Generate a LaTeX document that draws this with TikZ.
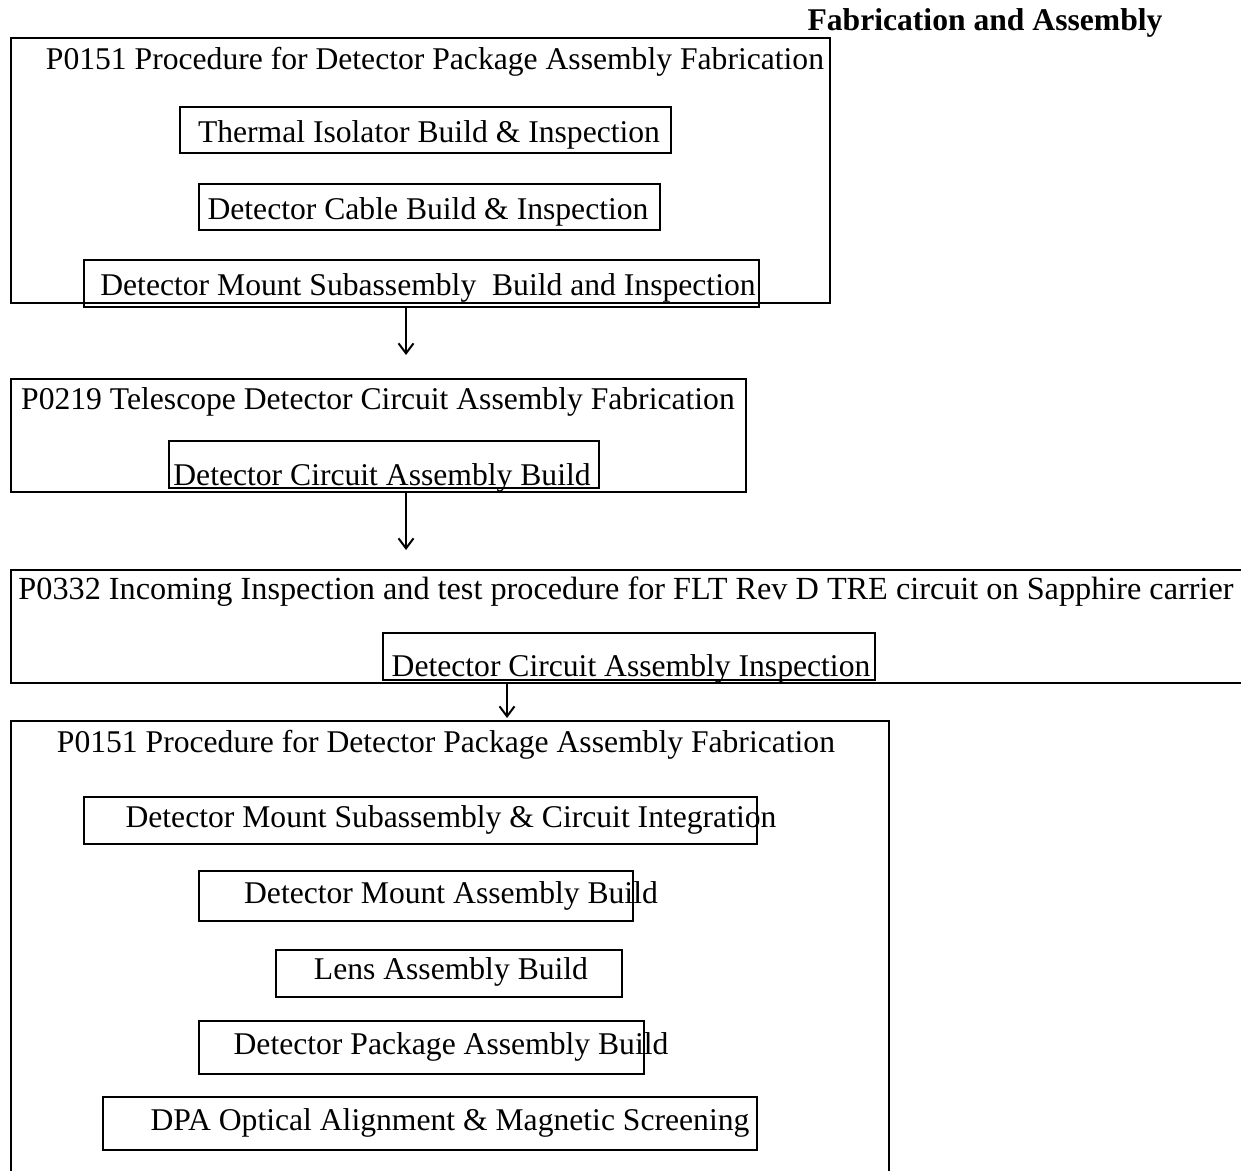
\documentclass[tikz,border=0pt]{standalone}
\usepackage{fontspec}
\setmainfont{Liberation Serif}
\usepackage{tikz}
\usetikzlibrary{fit,arrows.meta}

\tikzset{
  frame/.style={draw, rectangle, inner sep=0pt, line width=0.5pt},
  subbox/.style={draw, rectangle, inner sep=0pt, line width=0.7pt},
  label/.style={anchor=base, inner sep=0pt, font=\fontsize{12.65}{15}\selectfont},
  flow/.style={-{Straight Barb[length=4pt,width=6pt]}, line width=0.8pt}
}

\begin{document}
\begin{tikzpicture}[x=0.4pt,y=-0.4pt]
		\clip (0,0) rectangle (1241,1171);
		
		% Heading
		\node[label, font=\fontsize{12.65}{15}\selectfont\bfseries] (heading) at (985,31) {Fabrication and Assembly};
		
		% P0151 (first part)
		\node[frame, fit={(11,38) (830,303)}] (frameone) {};
		\node[label] (titleone) at (435,70) {P0151 Procedure for Detector Package Assembly Fabrication};
		\node[subbox, fit={(180,107) (671,153)}] (isolator) {};
		\node[label] (isolatortxt) at (429,143) {Thermal Isolator Build \& Inspection};
		\node[subbox, fit={(199,184) (660,230)}] (cable) {};
		\node[label] (cabletxt) at (428,220) {Detector Cable Build \& Inspection};
		\node[subbox, fit={(84,260) (759,307)}] (mountsub) {};
		\node[label] (mountsubtxt) at (428,296) {Detector Mount Subassembly\ \ Build and Inspection};
		
		% P0219
		\node[frame, fit={(11,379) (746,492)}] (frametwo) {};
		\node[label] (titletwo) at (378,410) {P0219 Telescope Detector Circuit Assembly Fabrication};
		\node[subbox, fit={(169,441) (599,488)}] (circbuild) {};
		\node[label] (circbuildtxt) at (382,486) {Detector Circuit Assembly Build};
		
		% P0332
		\node[frame, fit={(11,570) (1262,683)}] (framethree) {};
		\node[label, font=\fontsize{12.9}{15}\selectfont] (titlethree) at (626,600) {P0332 Incoming Inspection and test procedure for FLT Rev D TRE circuit on Sapphire carrier};
		\node[subbox, fit={(383,633) (875,680)}] (circinsp) {};
		\node[label] (circinsptxt) at (631,677) {Detector Circuit Assembly Inspection};
		
		% P0151 (second part)
		\node[frame, fit={(11,721) (889,1200)}] (framefour) {};
		\node[label] (titlefour) at (446,753) {P0151 Procedure for Detector Package Assembly Fabrication};
		\node[subbox, fit={(84,797) (757,844)}] (integration) {};
		\node[label] (integrationtxt) at (451,828) {Detector Mount Subassembly \& Circuit Integration};
		\node[subbox, fit={(199,871) (633,921)}] (mountbuild) {};
		\node[label] (mountbuildtxt) at (451,903) {Detector Mount Assembly Build};
		\node[subbox, fit={(276,950) (622,997)}] (lens) {};
		\node[label] (lenstxt) at (451,979) {Lens Assembly Build};
		\node[subbox, fit={(199,1021) (644,1074)}] (packbuild) {};
		\node[label] (packbuildtxt) at (451,1054) {Detector Package Assembly Build};
		\node[subbox, fit={(103,1097) (757,1150)}] (alignment) {};
		\node[label] (alignmenttxt) at (450,1130) {DPA Optical Alignment \& Magnetic Screening};
		
		% Connections
		\coordinate (tipone) at (406,355);
		\coordinate (tiptwo) at (406,550);
		\coordinate (tipthree) at (507,718);
		\draw[flow] (mountsub.south -| tipone) -- (tipone);
		\draw[flow] (frametwo.south -| tiptwo) -- (tiptwo);
		\draw[flow] (framethree.south -| tipthree) -- (tipthree);
	\end{tikzpicture}
\end{document}
